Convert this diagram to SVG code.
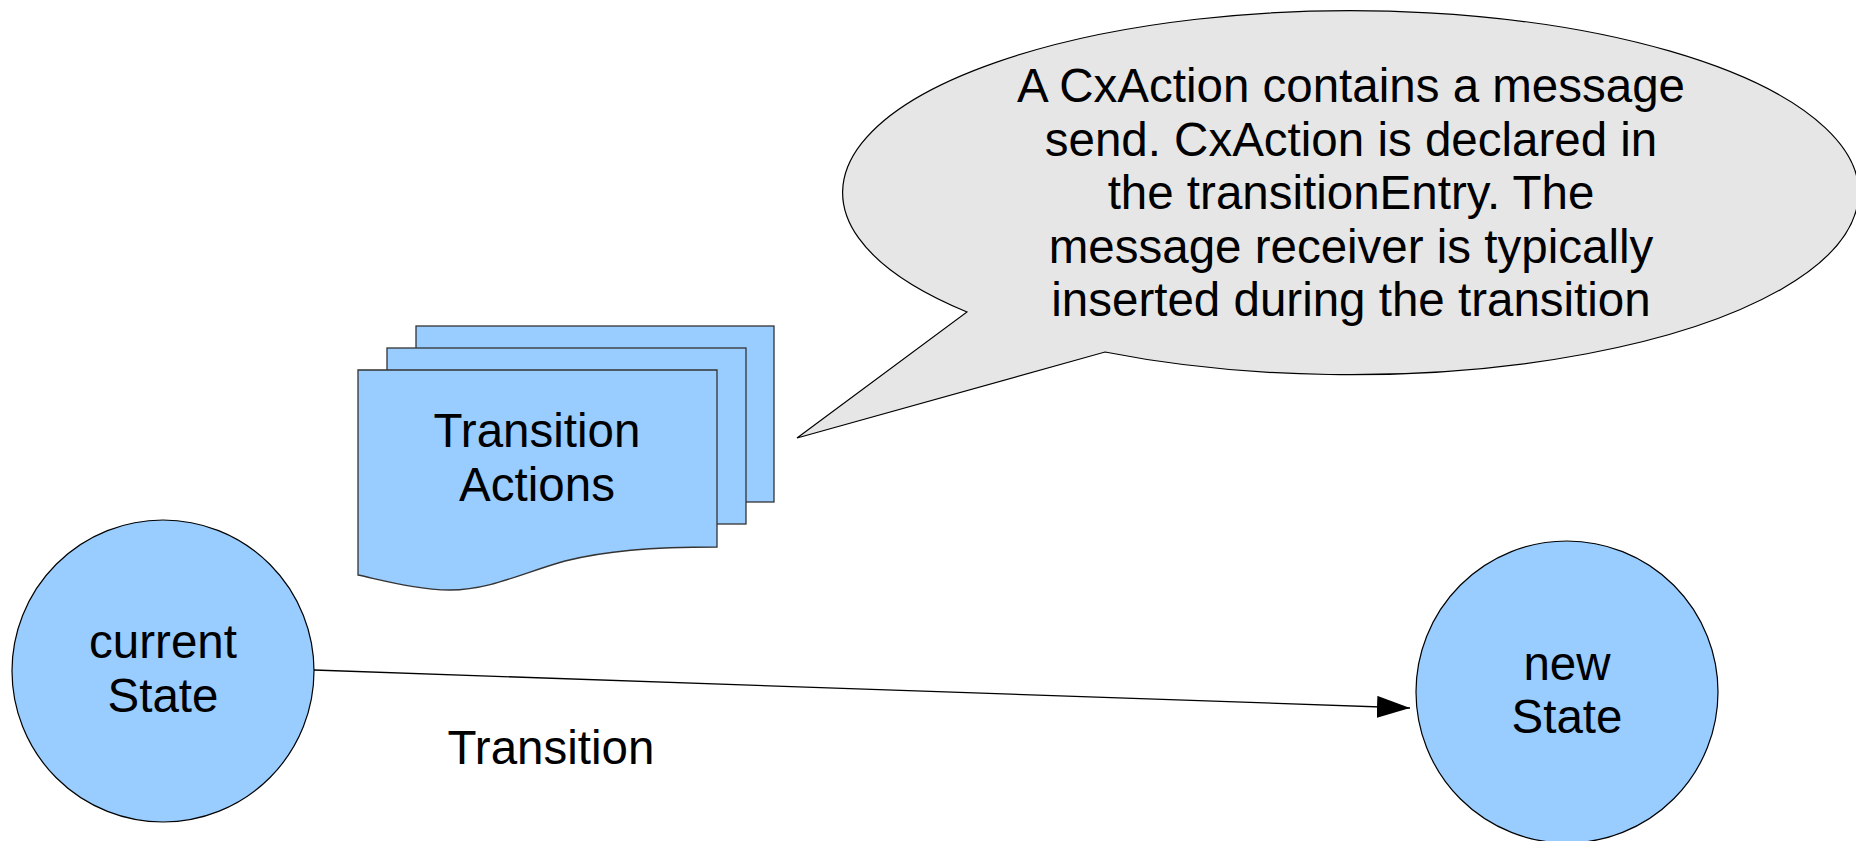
<svg xmlns="http://www.w3.org/2000/svg" width="1856" height="841" viewBox="0 0 1856 841">
  <style>
    .label { font-family: "Liberation Sans", Arial, sans-serif; font-size: 47.5px; fill: #000; text-anchor: middle; }
    .state { fill: #99ccff; stroke: #000; stroke-width: 1.2; }
    .doc { fill: #99ccff; stroke: #333; stroke-width: 1.3; }
    .bubble { fill: #e6e6e6; stroke: #000; stroke-width: 1.2; }
    .edge { fill: none; stroke: #000; stroke-width: 1.3; }
  </style>
  <defs>
    <marker id="arrowhead" markerUnits="userSpaceOnUse" markerWidth="34" markerHeight="22" refX="33" refY="11" orient="auto">
      <path d="M0,0 L33,11 L0,22 Z" fill="#000"/>
    </marker>
  </defs>

  <rect width="1856" height="841" fill="#fff"/>

  <!-- speech bubble note -->
  <g id="note">
    <path class="bubble" d="M967 312 A508 182 0 1 1 1105 352 L797 438 Z"/>
    <text class="label" x="1351" y="102">A CxAction contains a message</text>
    <text class="label" x="1351" y="155.5">send. CxAction is declared in</text>
    <text class="label" x="1351" y="209">the transitionEntry. The</text>
    <text class="label" x="1351" y="262.5">message receiver is typically</text>
    <text class="label" x="1351" y="316">inserted during the transition</text>
  </g>

  <!-- stacked documents -->
  <g id="transition-actions">
    <rect class="doc" x="416" y="326" width="358" height="176"/>
    <rect class="doc" x="387" y="348" width="359" height="176"/>
    <path class="doc" d="M358 370 H717 V547 C650 547 605 551 565 561 C525 572 490 590 450 590 C420 590 390 582 358 575 Z"/>
    <text class="label" x="537" y="447">Transition</text>
    <text class="label" x="537" y="501">Actions</text>
  </g>

  <!-- states -->
  <g id="current-state">
    <circle class="state" cx="163" cy="671" r="151"/>
    <text class="label" x="163" y="658">current</text>
    <text class="label" x="163" y="712">State</text>
  </g>

  <g id="new-state">
    <circle class="state" cx="1567" cy="692" r="151"/>
    <text class="label" x="1567" y="680">new</text>
    <text class="label" x="1567" y="733">State</text>
  </g>

  <!-- connectors -->
  <g id="connectors">
    <line class="edge" x1="314" y1="670" x2="1410" y2="708" marker-end="url(#arrowhead)"/>
    <text class="label" x="551" y="764">Transition</text>
  </g>
</svg>
